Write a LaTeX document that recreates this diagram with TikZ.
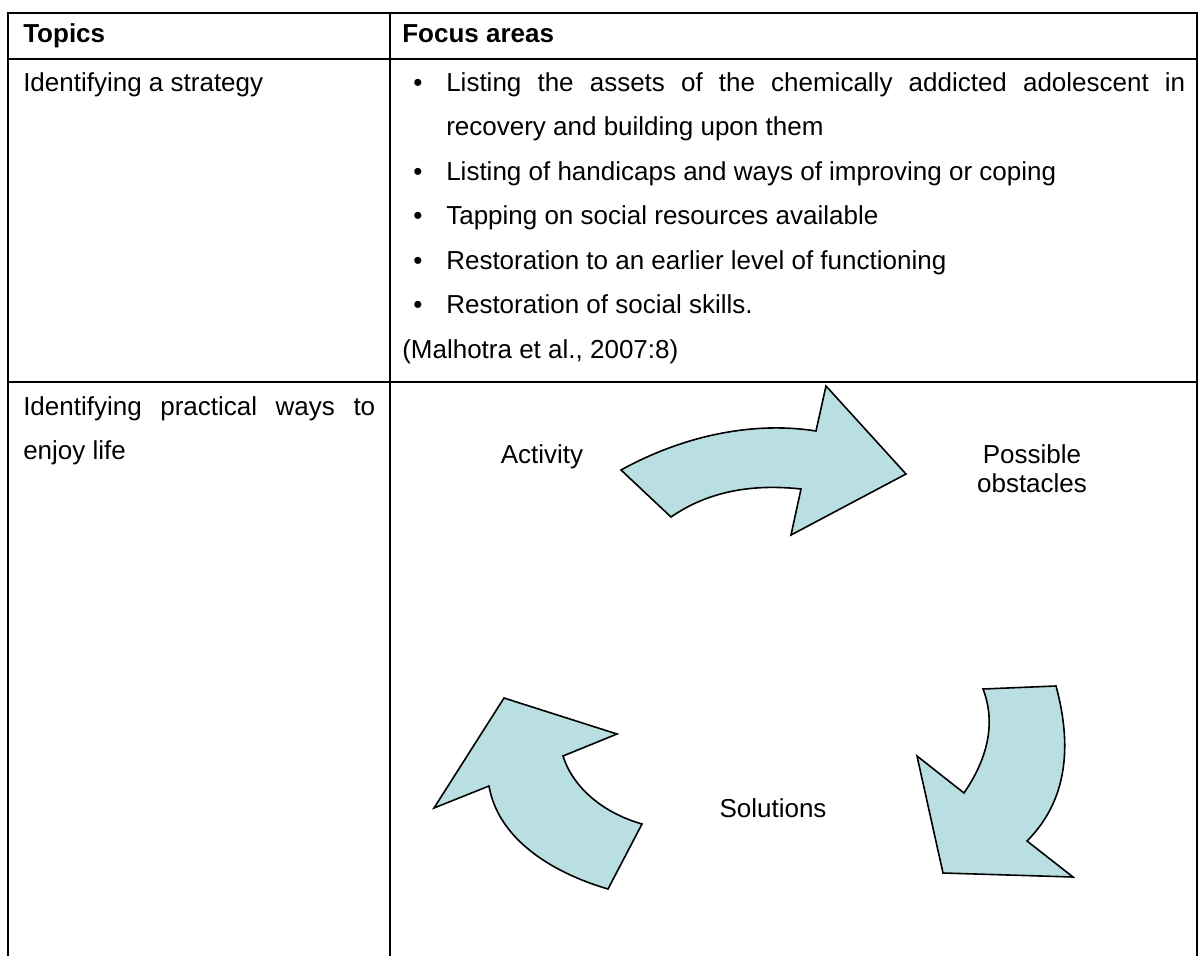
\documentclass[tikz,border=0pt]{standalone}
\usepackage{fontspec}
\setmainfont{Liberation Sans}
\definecolor{arrowfill}{RGB}{185,223,227}
\begin{document}
\begin{tikzpicture}[x=0.75pt,y=-0.75pt,
  tline/.style={line width=1.5pt},
  arrowshape/.style={fill=arrowfill, draw=black, line width=1.2pt, line join=miter},
  txt/.style={anchor=base west, inner sep=0pt, font=\fontsize{19.5pt}{23pt}\selectfont},
  lbl/.style={inner sep=0pt, align=center, font=\fontsize{19.5pt}{21.5pt}\selectfont},
  bul/.style={anchor=base west, inner sep=0pt, font=\fontsize{19.5pt}{23pt}\selectfont}]
\useasboundingbox (0,0) rectangle (1199,956);
% table grid
\coordinate (tl) at (8,13); \coordinate (tr) at (1197,13);
\coordinate (bl) at (8,956); \coordinate (br) at (1197,956);
\draw[tline] (bl) -- (tl) -- (tr) -- (br);
\draw[tline] (390,13) -- (390,956);
\draw[tline] (8,59) -- (1197,59);
\draw[tline] (8,382) -- (1197,382);
% header
\node[txt, font=\fontsize{19.5pt}{23pt}\selectfont\bfseries] (h1) at (23,43) {Topics};
\node[txt, font=\fontsize{19.5pt}{23pt}\selectfont\bfseries] (h2) at (402,43) {Focus areas};
% row 2
\node[txt] (t1) at (23,91) {Identifying a strategy};
\node[bul] (b1) at (413,91) {•};
\node[txt] (f1a) at (446,91) {\makebox[554.25pt][s]{Listing the assets of the chemically addicted adolescent in}};
\node[txt] (f1b) at (446,135.5) {recovery and building upon them};
\node[bul] (b2) at (413,180) {•};
\node[txt] (f2) at (446,180) {Listing of handicaps and ways of improving or coping};
\node[bul] (b3) at (413,224.5) {•};
\node[txt] (f3) at (446,224.5) {Tapping on social resources available};
\node[bul] (b4) at (413,269) {•};
\node[txt] (f4) at (446,269) {Restoration to an earlier level of functioning};
\node[bul] (b5) at (413,313.5) {•};
\node[txt] (f5) at (446,313.5) {Restoration of social skills.};
\node[txt] (cite) at (402,358) {(Malhotra et al., 2007:8)};
% row 3
\node[txt] (t2a) at (23,415) {\makebox[264pt][s]{Identifying practical ways to}};
\node[txt] (t2b) at (23,459.5) {enjoy life};
% cycle diagram
\draw[arrowshape] (621,470) .. controls (690,432) and (760,422) .. (816,431)
  -- (826,386) -- (906,474) -- (791,535) -- (801,489)
  .. controls (755,484) and (710,490) .. (671,517) -- cycle;
\draw[arrowshape] (983,689) -- (1056,686)
  .. controls (1072,745) and (1068,800) .. (1027,841)
  -- (1073,877) -- (943,873) -- (917,756) -- (964,793)
  .. controls (990,755) and (995,720) .. (983,689) -- cycle;
\draw[arrowshape] (504,698) -- (617,734) -- (563,756)
  .. controls (572,785) and (600,812) .. (642,824)
  -- (608,889) .. controls (550,872) and (498,838) .. (489,786)
  -- (434,808) -- cycle;
\node[lbl] (act) at (542,457) {Activity};
\node[lbl] (obs) at (1032,469) {Possible\\obstacles};
\node[lbl] (sol) at (773,808) {Solutions};
\end{tikzpicture}
\end{document}
